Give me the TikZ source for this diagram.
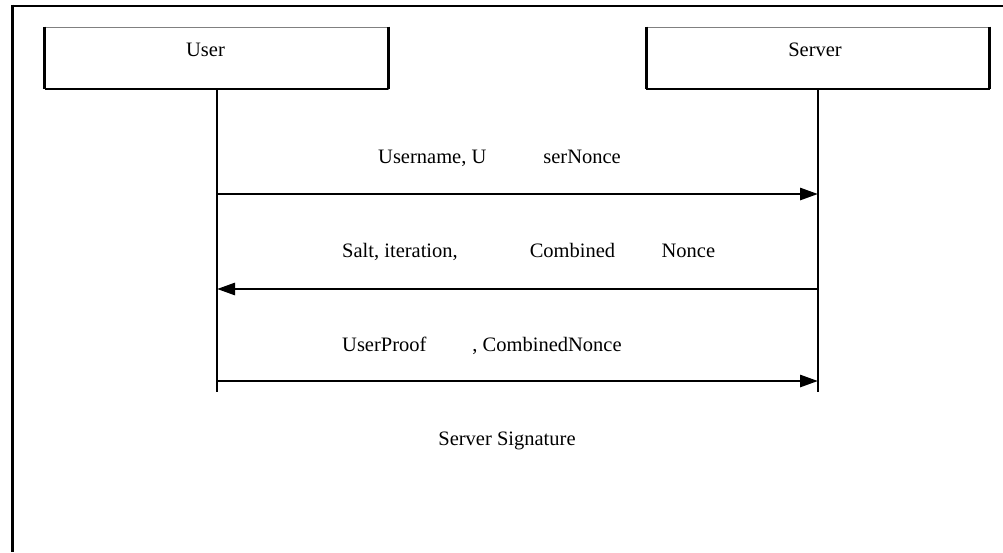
\documentclass[tikz,border=0pt]{standalone}
\usepackage{fontspec}
\setmainfont{Liberation Serif}
\usetikzlibrary{arrows, arrows.meta}
\usetikzlibrary{positioning}
\usetikzlibrary{calc}

\begin{document}
\begin{tikzpicture}[x=1pt, y=-1pt,
	font=\fontsize{20.5}{24}\selectfont,
	actor/.style={draw=gray, line width=0.8pt, minimum width=343pt, minimum height=62pt, inner sep=0pt, text height=13.5pt, text depth=16pt},
	lifeline/.style={line width=1.5pt},
	msg/.style={line width=2.8pt, -{Triangle[length=18pt, width=12pt]}},
	lbl/.style={anchor=west, inner sep=0pt}]
						% fix the size
						\useasboundingbox (0,0) rectangle (1003,552);
						% draw frame
						\draw[line width=2pt] (12.5,5.5) -- (1003,5.5);
						\draw[line width=3pt] (12.5,4.5) -- (12.5,552);
						% draw boxes
						\node[actor] (user) at (216.5,58) {User\hspace*{22pt}};
						\node[actor] (server) at (818,58) {Server\hspace*{6pt}};
						\draw[line width=3pt] (user.north west) -- (user.south west);
						\draw[line width=3pt] (user.north east) -- (user.south east);
						\draw[line width=2pt] (user.south west) -- (user.south east);
						\draw[line width=3pt] (server.north west) -- (server.south west);
						\draw[line width=3pt] (server.north east) -- (server.south east);
						\draw[line width=2pt] (server.south west) -- (server.south east);
						% draw lifelines
						\coordinate (userend) at (217,392);
						\coordinate (serverend) at (818,392);
						\draw[lifeline] (user.south -| userend) -- (userend);
						\draw[lifeline] (server.south -| serverend) -- (serverend);
						% add messages
						\coordinate (u1) at (217,194);
						\coordinate (s1) at (818,194);
						\coordinate (u2) at (217,289);
						\coordinate (s2) at (818,289);
						\coordinate (u3) at (217,381);
						\coordinate (s3) at (818,381);
						\draw[msg] (u1) -- (s1);
						\draw[msg] (s2) -- (u2);
						\draw[msg] (u3) -- (s3);
						% add labels
						\node[lbl] (m1) at (378,158) {Username, U\hspace{57pt}serNonce};
						\node[lbl] (m2) at (342,252) {Salt, iteration,\hspace{72pt}Combined\hspace{46.5pt}Nonce};
						\node[lbl] (m3) at (342,346) {UserProof\hspace{46pt}, CombinedNonce};
						\node (sig) at (507,441) {Server Signature};
					\end{tikzpicture}
\end{document}
